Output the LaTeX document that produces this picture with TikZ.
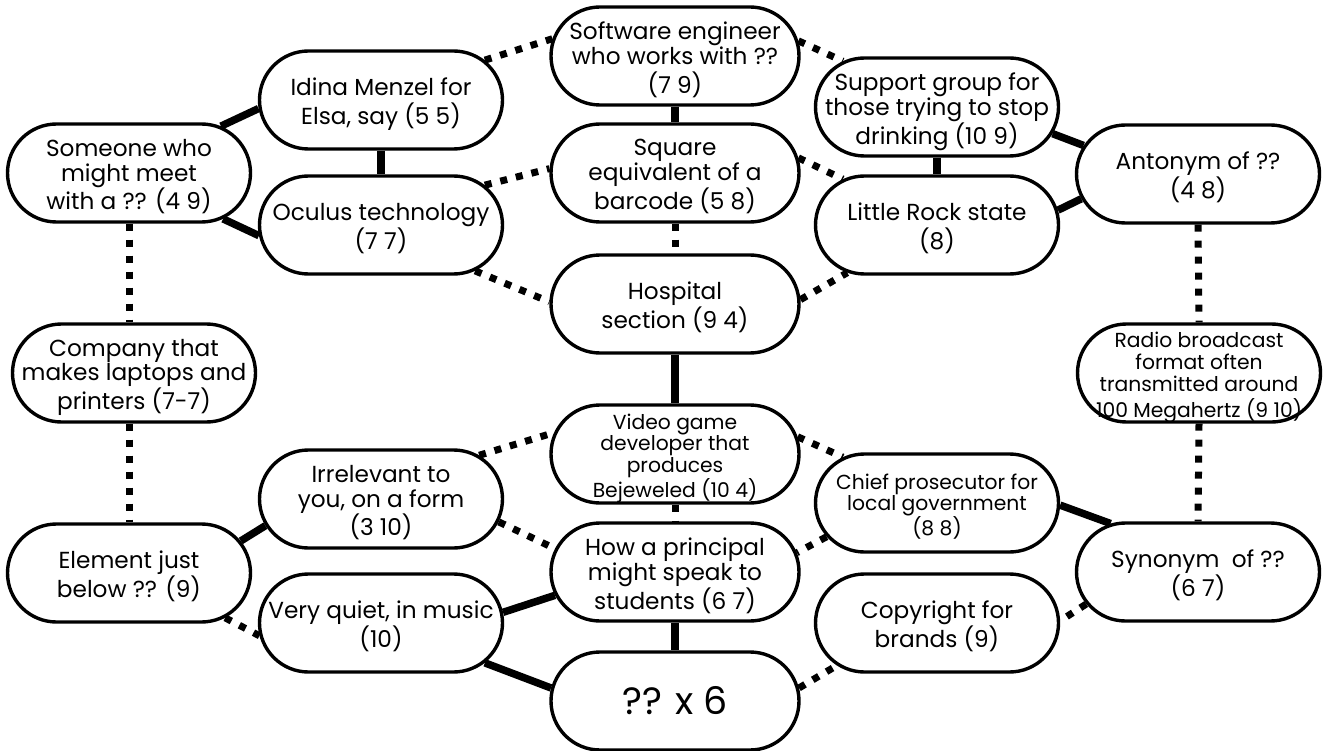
\documentclass[tikz,border=0pt]{standalone}
\usepackage{fontspec}
\setmainfont{Poppins}
\usetikzlibrary{shapes.misc,backgrounds}

\newcommand{\clue}[1]{\raisebox{-5pt}[\height][\depth]{\makebox[0pt]{\begin{tabular}{@{}c@{}}#1\end{tabular}}}}

\begin{document}
\begin{tikzpicture}[x=1pt,y=-1pt,
    box/.style={rounded rectangle,draw,line width=3.4pt,fill=white,
        minimum width=243pt,minimum height=98pt,inner sep=0pt,
        font=\fontsize{23.2}{23.6}\selectfont},
    small/.style={font=\fontsize{20.3}{21.3}\selectfont},
    wide/.style={minimum width=248pt},
    strong/.style={line width=7.5pt},
    weak/.style={line width=7pt,dash pattern=on 7pt off 9pt}]

    \useasboundingbox (0,0) rectangle (1343,751);

    \node[box] (someone) at (129,173) {\clue{Someone who\\might meet\\with a ?? (4 9)}};
    \node[box] (company) at (134,373) {\clue{Company that\\makes laptops and\\printers (7-7)}};
    \node[box] (element) at (129,573) {\clue{Element just\\below ?? (9)}};

    \node[box] (idina) at (381,100) {\clue{Idina Menzel for\\Elsa, say (5 5)}};
    \node[box] (oculus) at (381,225) {\clue{Oculus technology\\(7 7)}};
    \node[box] (irrelevant) at (381,499) {\clue{Irrelevant to\\you, on a form\\(3 10)}};
    \node[box] (quiet) at (381,623) {\clue{Very quiet, in music\\(10)}};

    \node[box,wide] (software) at (675,56) {\clue{Software engineer\\who works with ??\\(7 9)}};
    \node[box,wide] (square) at (675,173) {\clue{Square\\equivalent of a\\barcode (5 8)}};
    \node[box,wide] (hospital) at (675,304) {\clue{Hospital\\section (9 4)}};
    \node[box,wide,small] (video) at (675,454) {\clue{Video game\\developer that\\produces\\Bejeweled (10 4)}};
    \node[box,wide] (principal) at (675,572) {\clue{How a principal\\might speak to\\students (6 7)}};
    \node[box,wide,font=\fontsize{38}{40}\selectfont] (sixes) at (675,701) {\clue{?? x 6}};

    \node[box] (support) at (937,107) {\clue{Support group for\\those trying to stop\\drinking (10 9)}};
    \node[box] (rock) at (937,225) {\clue{Little Rock state\\(8)}};
    \node[box,small] (chief) at (937,503) {\clue{Chief prosecutor for\\local government\\(8 8)}};
    \node[box] (copyright) at (937,623) {\clue{Copyright for\\brands (9)}};

    \node[box] (antonym) at (1198,174) {\clue{Antonym of ??\\(4 8)}};
    \node[box,small] (radio) at (1199,373) {\clue{Radio broadcast\\format often\\transmitted around\\100 Megahertz (9 10)}};
    \node[box] (synonym) at (1198,572) {\clue{Synonym\ \ of ??\\(6 7)}};

    \begin{pgfonlayer}{background}
    \draw[strong] (someone.27) -- (idina.184);
    \draw[strong] (someone.-26) -- (oculus.185);
    \draw[strong] (idina.south) -- (oculus.north);
    \draw[weak] (idina.21) -- (software.172);
    \draw[weak] (oculus.21) -- (square.178);
    \draw[weak] (oculus.-26) -- (hospital.179);
    \draw[strong] (software.south) -- (square.north);
    \draw[weak] (software.7) -- (support.154);
    \draw[weak] (square.7) -- (rock.154);
    \draw[weak] (square.south) -- (hospital.north);
    \draw[weak] (hospital.2) -- (rock.208);
    \draw[strong] (support.south) -- (rock.north);
    \draw[strong] (support.-13) -- (antonym.166);
    \draw[strong] (rock.7) -- (antonym.192);
    \draw[weak] (antonym.south) -- (radio.north);
    \draw[weak] (radio.south) -- (synonym.north);
    \draw[weak] (someone.south) -- (someone.south |- company.north);
    \draw[weak] (element.north |- company.south) -- (element.north);
    \draw[strong] (hospital.south) -- (video.north);
    \draw[weak] (video.south) -- (principal.north);
    \draw[strong] (principal.south) -- (sixes.north);
    \draw[weak] (irrelevant.24) -- (video.170);
    \draw[weak] (irrelevant.-11) -- (principal.169);
    \draw[weak] (video.8) -- (chief.154);
    \draw[weak] (chief.197) -- (principal.9);
    \draw[strong] (chief.-1) -- (synonym.151);
    \draw[strong] (element.16) -- (irrelevant.193);
    \draw[weak] (element.-25) -- (quiet.186);
    \draw[strong] (quiet.5) -- (principal.191);
    \draw[strong] (quiet.-21) -- (sixes.174);
    \draw[weak] (sixes.6) -- (copyright.203);
    \draw[weak] (synonym.196) -- (copyright.1);
    \end{pgfonlayer}

\end{tikzpicture}
\end{document}
